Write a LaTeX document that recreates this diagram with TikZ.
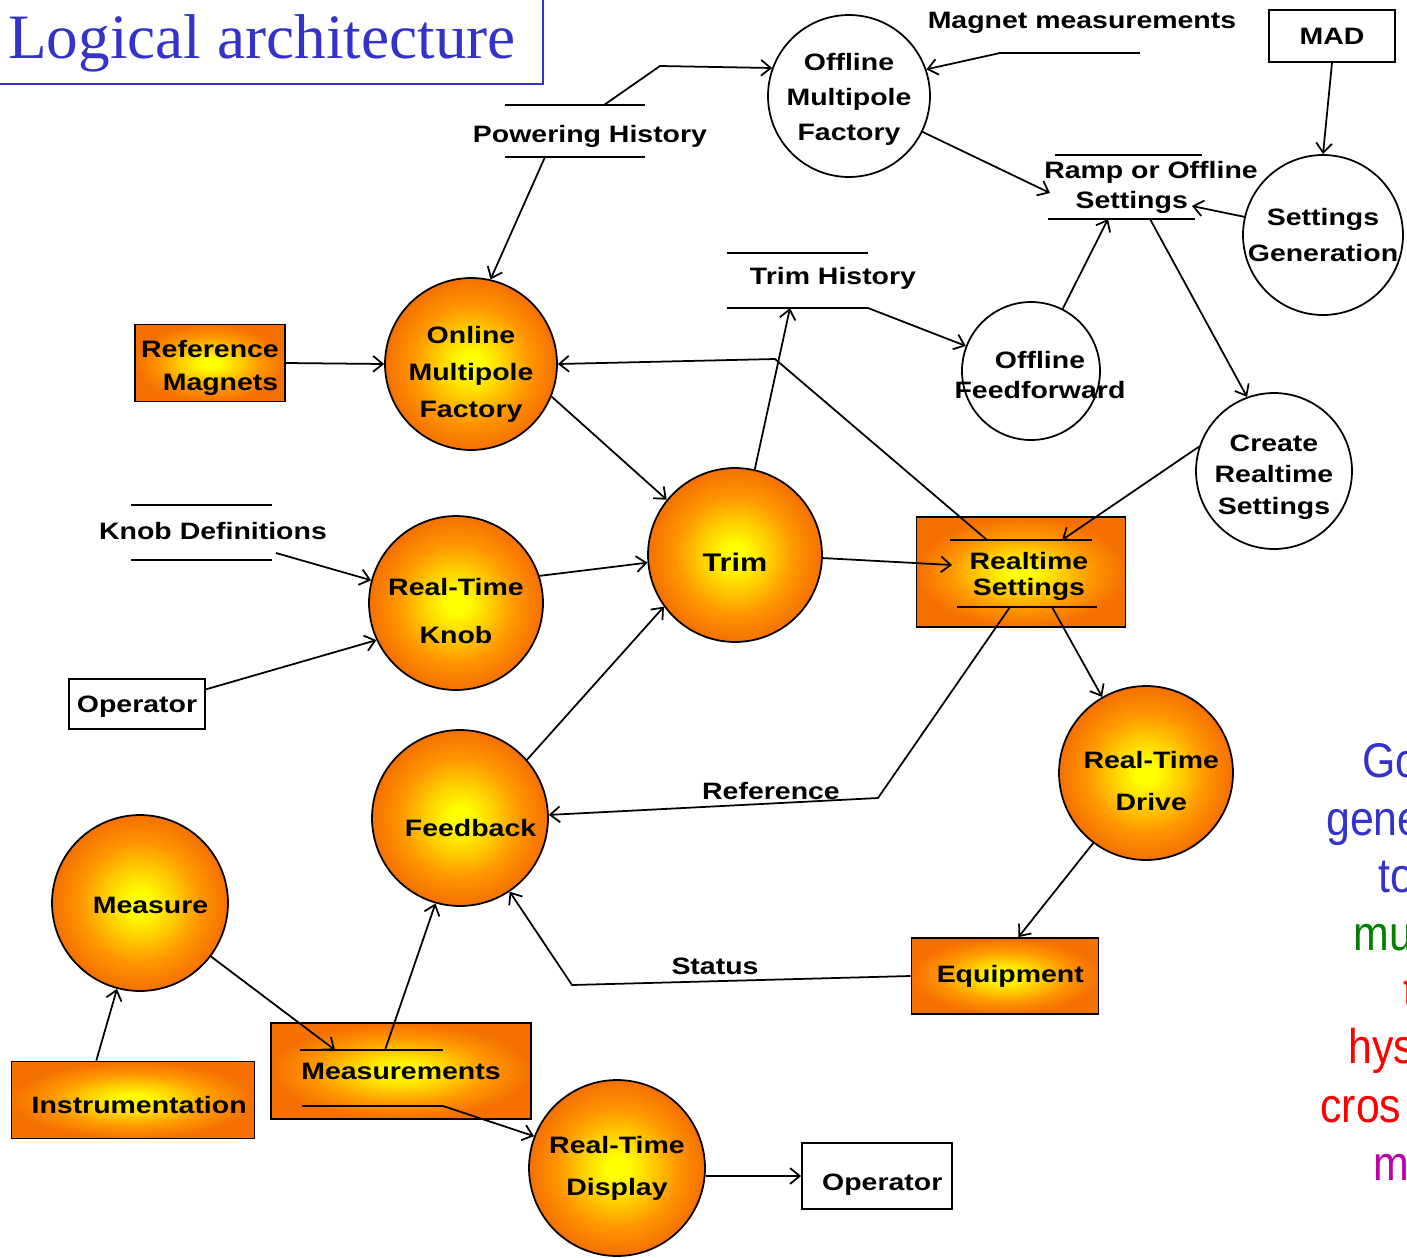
\documentclass[tikz,border=0pt]{standalone}
\usepackage{fontspec}
\setmainfont{Liberation Sans}[FakeStretch=1.2]
\newfontfamily\titlefont{Liberation Serif}
\newfontfamily\notefont{Liberation Sans}[FakeStretch=0.88]
\usetikzlibrary{arrows.meta}

\definecolor{dfdyellow}{RGB}{255,255,0}
\definecolor{dfdmid}{RGB}{255,205,0}
\definecolor{dfdorange}{RGB}{255,150,0}
\definecolor{dfddeep}{RGB}{245,112,0}
\definecolor{titleblue}{RGB}{51,51,204}
\definecolor{notegreen}{RGB}{0,128,0}
\definecolor{notered}{RGB}{255,0,0}
\definecolor{notemagenta}{RGB}{190,0,170}

\pgfdeclareradialshading{glow}{\pgfpoint{0bp}{0bp}}{%
    color(0bp)=(dfdyellow); color(3bp)=(dfdyellow); color(10bp)=(dfdmid);
    color(17bp)=(dfdorange); color(25bp)=(dfddeep); color(50bp)=(dfddeep)}

% invisible strut that pushes a node text downwards
\newcommand{\padtop}[1]{\rule{0pt}{#1}}

\begin{document}
\begin{tikzpicture}[
            x=0.02cm, y=-0.02cm,
            every node/.style={font=\bfseries\fontsize{13.5}{19}\selectfont, align=center, inner sep=0pt},
            proc/.style={circle, draw, line width=1pt, shade, shading=glow, minimum size=3.48cm},
            offproc/.style={circle, draw, line width=1pt, fill=white},
            entity/.style={rectangle, draw, line width=1pt, shade, shading=glow},
            extern/.style={rectangle, draw, line width=1pt, fill=white},
            flow/.style={-{Straight Barb[length=5.5pt,width=9pt]}, line width=1pt},
            bar/.style={line width=1pt},
            note/.style={font=\notefont\fontsize{27.7}{32}\selectfont, anchor=base west}
        ]

        \useasboundingbox (0,0) rectangle (1407,1258);
        \clip (0,0) rectangle (1407,1258);
        \fill[white] (0,0) rectangle (1407,1258);

        \draw[titleblue, line width=1.2pt] (543,0) -- (543,84) -- (0,84);
        \node[font=\titlefont\fontsize{36}{40}\selectfont, text=titleblue, anchor=base west] (title) at (8,58) {Logical architecture};

        \node[proc, minimum size=3.44cm] (omf) at (471,364) {\padtop{22pt}Online\\[2pt]Multipole\\[2pt]Factory};
        \node[proc, font=\bfseries\fontsize{14.5}{19}\selectfont] (trim) at (735,555) {\padtop{18.4pt}Trim};
        \node[proc] (knob) at (456,603) {\padtop{19pt}Real-Time\\[8pt]Knob};
        \node[proc, minimum size=3.52cm] (fb) at (460,818) {\padtop{21pt}\hspace*{12pt}Feedback};
        \node[proc, minimum size=3.52cm] (meas) at (140,903) {\padtop{12pt}\hspace*{12pt}Measure};
        \node[proc, minimum size=3.52cm] (disp) at (617,1168) {Real-Time\\[5pt]Display};
        \node[proc] (drive) at (1146,773) {\padtop{19pt}\hspace*{6pt}Real-Time\\[5pt]\hspace*{6pt}Drive};

        \node[offproc, minimum size=3.24cm] (omfo) at (849,96) {\padtop{14pt}Offline\\[1pt]Multipole\\[1pt]Factory};
        \node[offproc, minimum size=3.2cm] (sg) at (1323,235) {Settings\\[1pt]Generation};
        \node[offproc, minimum size=2.76cm] (off) at (1031,371) {};
        \node (off-txt) at (1040,375) {Offline\\[-2pt]Feedforward};
        \node[offproc, minimum size=3.12cm] (crs) at (1274,471) {\padtop{16.5pt}Create\\[-1pt]Realtime\\[-1pt]Settings};

        \node[entity, minimum width=3cm, minimum height=1.54cm] (refmag) at (210,363) {\padtop{15.5pt}Reference\\\hspace*{12pt}Magnets};
        \node[entity, minimum width=4.18cm, minimum height=2.2cm] (rs) at (1021,572) {\padtop{15pt}\hspace*{9pt}Realtime\\[-4pt]\hspace*{9pt}Settings};
        \node[entity, minimum width=3.74cm, minimum height=1.52cm] (equip) at (1005,976) {\hspace*{6pt}Equipment};
        \node[entity, minimum width=4.86cm, minimum height=1.54cm] (instr) at (133,1100) {\padtop{15.5pt}\hspace*{7pt}Instrumentation};
        \node[entity, minimum width=5.2cm, minimum height=1.92cm] (msmt) at (401,1071) {Measurements};
        \node[extern, minimum width=2.52cm, minimum height=1.04cm] (mad) at (1332,36) {MAD};
        \node[extern, minimum width=2.72cm, minimum height=1cm] (op1) at (137,704) {\padtop{13pt}Operator};
        \node[extern, minimum width=3cm, minimum height=1.32cm] (op2) at (877,1176) {\padtop{19pt}\hspace*{6pt}Operator};

        \node (ph) at (590,136) {Powering History};
        \node (thist) at (833,278) {Trim History};
        \node (kd) at (213,531) {Knob Definitions};
        \node (ros) at (1151,187) {Ramp or Offline\\[-2pt]Settings\hspace*{22pt}};
        \node (mm) at (1082,23) {Magnet measurements};
        \node (reflbl) at (771,791) {Reference};
        \node (statlbl) at (715,966) {Status};

        \draw[bar] (505,105) -- (645,105) (505,157) -- (645,157);
        \draw[bar] (727,253) -- (868,253) (727,308) -- (868,308);
        \draw[bar] (131,505) -- (272,505) (131,560) -- (272,560);
        \draw[bar] (1055,155) -- (1202,155) (1048,219) -- (1195,219);
        \draw[bar] (1000,53) -- (1140,53);
        \draw[bar] (950,540) -- (1092,540) (957,607) -- (1097,607);
        \draw[bar] (300,1050) -- (443,1050) (302,1106) -- (443,1106);

        \coordinate (ph-top) at (604,105);
        \coordinate (ph-bend) at (660,66);
        \coordinate (ph-bot) at (545,157);
        \coordinate (th-bot) at (790,308);
        \coordinate (th-end) at (868,308);
        \coordinate (kd-out) at (276,553);
        \coordinate (ros-in) at (1050,193);
        \coordinate (ros-set) at (1192,206);
        \coordinate (ros-bot) at (1108,219);
        \coordinate (ros-out) at (1150,219);
        \coordinate (mm-end) at (1000,53);
        \coordinate (rs-top) at (987,540);
        \coordinate (rs-bend) at (775,359);
        \coordinate (rs-in) at (952,565);
        \coordinate (rs-crs) at (1062,540);
        \coordinate (rs-ref) at (1010,607);
        \coordinate (rs-drv) at (1052,607);
        \coordinate (ref-bend) at (878,798);
        \coordinate (stat-bend) at (572,985);
        \coordinate (msmt-in) at (335,1050);
        \coordinate (msmt-out) at (385,1050);
        \coordinate (msmt-end) at (443,1106);

        \draw[flow] (ph-top) -- (ph-bend) -- (omfo.160);
        \draw[flow] (ph-bot) -- (omf.77);
        \draw[flow] (mm-end) -- (omfo.19);
        \draw[flow] (omfo.-26) -- (ros-in);
        \draw[flow] (mad.south) -- (sg.north);
        \draw[flow] (sg.167) -- (ros-set);
        \draw[flow] (off.63) -- (ros-bot);
        \draw[flow] (ros-out) -- (crs.110);
        \draw[flow] (th-end) -- (off.159);
        \draw[flow] (trim.77) -- (th-bot);
        \draw[flow] (rs-top) -- (rs-bend) -- (omf.east);
        \draw[flow] (omf.-22) -- (trim.141);
        \draw[flow] (refmag.east) -- (omf.west);
        \draw[flow] (kd-out) -- (knob.165);
        \draw[flow] (op1.12) -- (knob.205);
        \draw[flow] (knob.18) -- (trim.185);
        \draw[flow] (trim.-2) -- (rs-in);
        \draw[flow] (crs.162) -- (rs-crs);
        \draw[flow] (rs-ref) -- (ref-bend) -- (fb.2);
        \draw[flow] (rs-drv) -- (drive.120);
        \draw[flow] (fb.41) -- (trim.216);
        \draw[flow] (drive.233) -- (equip.71);
        \draw[flow] (equip.west) -- (stat-bend) -- (fb.-56);
        \draw[flow] (instr.133) -- (meas.255);
        \draw[flow] (meas.-37) -- (msmt-in);
        \draw[flow] (msmt-out) -- (fb.254);
        \draw[flow] (msmt-end) -- (disp.159);
        \draw[flow] (disp.east |- op2.west) -- (op2.west);

        \node[note, text=titleblue] (n1) at (1362,777) {Go};
        \node[note, text=titleblue] (n2) at (1326,835) {gene};
        \node[note, text=titleblue] (n3) at (1378,892) {to};
        \node[note, text=notegreen] (n4) at (1353,950) {mu};
        \node[note, text=notered] (n5) at (1403,1007) {t};
        \node[note, text=notered] (n6) at (1348,1063) {hys};
        \node[note, text=notered] (n7) at (1320,1122) {cros};
        \node[note, text=notemagenta] (n8) at (1373,1180) {m};

        \end{tikzpicture}
\end{document}
